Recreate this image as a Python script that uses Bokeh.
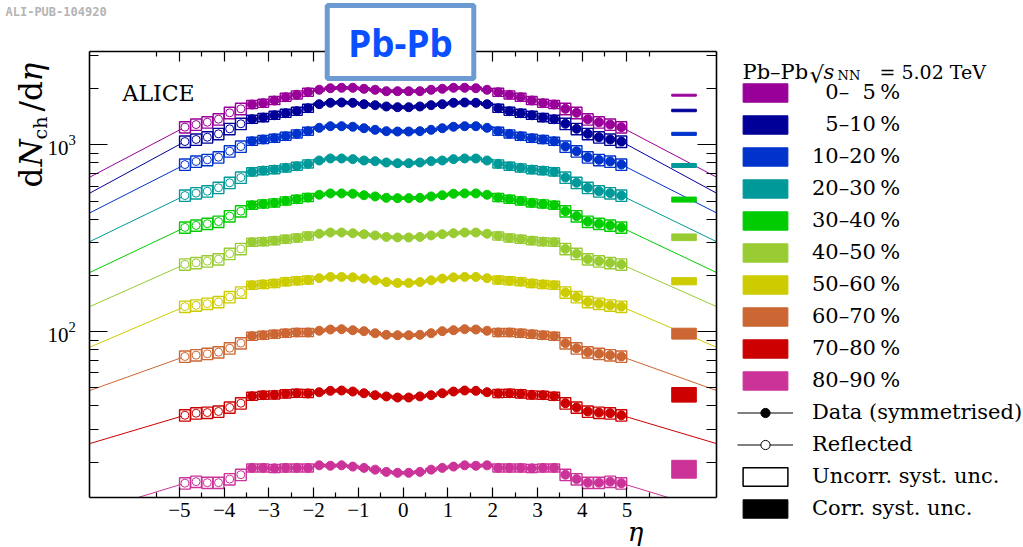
import math
from bokeh.plotting import figure
from bokeh.models import (Range1d, FixedTicker, LogAxis, LinearAxis, LogTickFormatter,
                          Label, Legend, LegendItem, ColumnDataSource)
from bokeh.embed import file_html
from bokeh.resources import INLINE

# ---------------- data ----------------
ETA = [0.125, 0.375, 0.625, 0.875, 1.125, 1.375, 1.625, 1.875, 2.125, 2.375,
       2.625, 2.875, 3.125, 3.375, 3.625, 3.875, 4.125, 4.375, 4.625, 4.875]

CENTRALITY = ["0–5%", "5–10%", "10–20%", "20–30%", "30–40%",
              "40–50%", "50–60%", "60–70%", "70–80%", "80–90%"]
LEGEND_LABELS = ["\u20070–\u20075\u2009%", "\u20075–10\u2009%", "10–20\u2009%", "20–30\u2009%",
                 "30–40\u2009%", "40–50\u2009%", "50–60\u2009%", "60–70\u2009%",
                 "70–80\u2009%", "80–90\u2009%"]
COLORS = ["#990099", "#000099", "#0033cc", "#009999", "#00cc00",
          "#99cc33", "#cccc00", "#cc6633", "#cc0000", "#cc3399"]

DN_0_5 = [1937, 1937, 1971, 1995, 2020, 2020, 2010, 1971, 1913, 1853,
          1799, 1727, 1671, 1644, 1559, 1484, 1371, 1321, 1284, 1243]
DN_5_10 = [1590, 1604, 1630, 1650, 1679, 1685, 1679, 1650, 1570, 1514,
           1476, 1440, 1400, 1371, 1296, 1218, 1145, 1098, 1068, 1041]
DN_10_20 = [1178, 1183, 1203, 1227, 1249, 1258, 1258, 1233, 1183, 1145,
            1112, 1085, 1068, 1045, 979, 924, 858, 831, 814, 784]
DN_20_30 = [797, 804, 817, 824, 838, 845, 845, 824, 791, 768,
            753, 737, 728, 717, 668, 626, 589, 564, 551, 535]
DN_30_40 = [518, 520, 529, 537, 547, 549, 549, 540, 522, 511,
            501, 489, 483, 475, 441, 415, 388, 378, 370, 361]
DN_40_50 = [319, 321, 327, 332, 336, 339, 339, 334, 325, 317,
            312, 307, 303, 301, 277, 261, 244, 238, 233, 229]
DN_50_60 = [182, 184, 188, 192, 195, 196, 196, 193, 189, 187,
            185, 181, 179, 177, 162, 153, 144, 141, 138, 136]
DN_60_70 = [95.5, 96.0, 97.9, 100.4, 101.6, 102.9, 102.5, 100.9, 98.8, 98.8,
            97.9, 96.7, 95.5, 94.4, 86.6, 81.4, 77.5, 76.0, 74.7, 73.5]
DN_70_80 = [44.3, 44.9, 45.6, 46.7, 47.7, 48.3, 48.1, 47.3, 46.6, 46.7,
            46.4, 45.8, 45.6, 45.0, 41.3, 39.2, 37.3, 36.8, 36.5, 35.6]
DN_80_90 = [17.5, 17.7, 18.2, 18.6, 18.9, 19.2, 19.1, 19.2, 18.6, 18.6,
            18.6, 18.5, 18.6, 18.6, 17.1, 16.2, 15.5, 15.5, 15.7, 15.4]
SERIES = [DN_0_5, DN_5_10, DN_10_20, DN_20_30, DN_30_40,
          DN_40_50, DN_50_60, DN_60_70, DN_70_80, DN_80_90]

# relative uncorrelated systematic uncertainty per |eta| bin
UNC_REL = [0.015, 0.015, 0.015, 0.015, 0.015, 0.015, 0.015, 0.015, 0.05, 0.05,
           0.05, 0.05, 0.05, 0.05, 0.07, 0.07, 0.07, 0.07, 0.07, 0.07]
REFLECT_LIMIT = -3.5

# correlated systematic uncertainty (centre value and relative size)
CORR_CENTRE = [1844, 1527, 1145, 775, 509, 320, 186, 97.6, 46.0, 18.4]
CORR_REL = [0.012, 0.0155, 0.019, 0.025, 0.031, 0.041, 0.044, 0.067, 0.09, 0.11]

# fit extrapolation: end point |eta| and value
FIT_END_ETA = [7.0, 7.0, 7.0, 7.0, 7.0, 7.0, 7.0, 7.0, 7.0, 5.92]
FIT_END_VAL = [671, 551, 432, 303, 207, 136, 82.4, 48.3, 25.1, 12.91]

X_TICKS = [-5, -4, -3, -2, -1, 0, 1, 2, 3, 4, 5]
X_MINOR = [-5.5, -4.5, -3.5, -2.5, -1.5, -0.5, 0.5, 1.5, 2.5, 3.5, 4.5, 5.5]
Y_TICKS = [100, 1000]
Y_MINOR = [20, 30, 40, 50, 60, 70, 80, 90, 200, 300, 400, 500, 600, 700, 800, 900, 2000, 3000]

# ---------------- layout constants ----------------
W, H = 1023, 547
# the plotting area covers the whole canvas; the drawn "frame" is made of fixed axes
X_FRAME = (-7.0, 7.0)
Y_FRAME = (12.91, 3160.0)
X_CANVAS = (-8.995, 13.859)
Y_CANVAS = (6.968, 5928.0)
BOX_HALF = 0.12
CORR_X0, CORR_X1 = 6.0, 6.55


def fx(cx):
    return cx


def fy(cy):
    return H - cy


p = figure(width=W, height=H, x_range=Range1d(*X_CANVAS), y_range=Range1d(*Y_CANVAS),
           y_axis_type="log", output_backend="svg", toolbar_location=None,
           min_border_left=0, min_border_right=0, min_border_top=0, min_border_bottom=0)
p.title.text = ""
p.title.visible = False
p.background_fill_color = "white"
p.border_fill_color = "white"
p.xgrid.visible = False
p.ygrid.visible = False
p.outline_line_color = None

xa = p.xaxis[0]
xa.ticker = FixedTicker(ticks=X_TICKS, minor_ticks=X_MINOR)
xa.fixed_location = Y_FRAME[0]
ya = p.yaxis[0]
ya.ticker = FixedTicker(ticks=Y_TICKS, minor_ticks=Y_MINOR)
ya.formatter = LogTickFormatter()
ya.fixed_location = X_FRAME[0]

top = LinearAxis(ticker=FixedTicker(ticks=X_TICKS, minor_ticks=X_MINOR),
                 major_label_overrides={t: "" for t in X_TICKS},
                 fixed_location=Y_FRAME[1])
right = LogAxis(ticker=FixedTicker(ticks=Y_TICKS, minor_ticks=Y_MINOR),
                major_label_overrides={t: "" for t in Y_TICKS},
                fixed_location=X_FRAME[1])
p.add_layout(top, "above")
p.add_layout(right, "right")

for ax in (xa, top):
    ax.bounds = X_FRAME
    ax.major_tick_in = 10
    ax.major_tick_out = 0
    ax.minor_tick_in = 5
    ax.minor_tick_out = 0
for ax, mj, mn in ((ya, 18, 9), (right, 19, 10)):
    ax.bounds = Y_FRAME
    ax.major_tick_in = mj
    ax.major_tick_out = 0
    ax.minor_tick_in = mn
    ax.minor_tick_out = 0
for ax in (xa, ya, top, right):
    ax.axis_line_width = 1.6
    ax.axis_line_color = "black"
    ax.major_tick_line_color = "black"
    ax.minor_tick_line_color = "black"
    ax.major_tick_line_width = 1.2
    ax.minor_tick_line_width = 1.2
    ax.major_label_text_font = "Liberation Serif"
    ax.major_label_text_color = "black"
    ax.major_label_text_font_size = "21px"
xa.major_label_standoff = 6
ya.major_label_standoff = 14

ETA_ALL = [-e for e in reversed(ETA)] + ETA
UNC_ALL = list(reversed(UNC_REL)) + UNC_REL

corr_renderers = []
for i, (vals, col) in enumerate(zip(SERIES, COLORS)):
    vals_all = list(reversed(vals)) + vals
    # fit extrapolation
    p.line(x=[-FIT_END_ETA[i], ETA_ALL[0]], y=[FIT_END_VAL[i], vals_all[0]],
           line_color=col, line_width=1)
    p.line(x=[ETA_ALL[-1], FIT_END_ETA[i]], y=[vals_all[-1], FIT_END_VAL[i]],
           line_color=col, line_width=1)
    # uncorrelated syst boxes
    src_box = ColumnDataSource(dict(
        left=[e - BOX_HALF for e in ETA_ALL], right=[e + BOX_HALF for e in ETA_ALL],
        bottom=[v * (1 - u) for v, u in zip(vals_all, UNC_ALL)],
        top=[v * (1 + u) for v, u in zip(vals_all, UNC_ALL)]))
    p.quad(source=src_box, left="left", right="right", bottom="bottom", top="top",
           fill_color=None, line_color=col, line_width=1.4)
    # reflected (open) and measured (filled) points
    refl_x = [e for e in ETA_ALL if e < REFLECT_LIMIT]
    refl_y = [v for e, v in zip(ETA_ALL, vals_all) if e < REFLECT_LIMIT]
    data_x = [e for e in ETA_ALL if e >= REFLECT_LIMIT]
    data_y = [v for e, v in zip(ETA_ALL, vals_all) if e >= REFLECT_LIMIT]
    p.scatter(x=refl_x, y=refl_y, marker="circle", size=8, fill_color="white",
              line_color=col, line_width=1)
    p.scatter(x=data_x, y=data_y, marker="circle", size=9, fill_color=col, line_color=col)
    # correlated syst bar
    r = p.quad(left=[CORR_X0], right=[CORR_X1], bottom=[CORR_CENTRE[i] * (1 - CORR_REL[i])],
               top=[CORR_CENTRE[i] * (1 + CORR_REL[i])], fill_color=col, line_color=col)
    corr_renderers.append(r)

# legend-only renderers (placed outside the visible range)
OFF = [-100.0]
leg_line1 = p.line(x=OFF, y=[1.0], line_color="black", line_width=1)
leg_dot = p.scatter(x=OFF, y=[1.0], marker="circle", size=8, fill_color="black", line_color="black")
leg_line2 = p.line(x=OFF, y=[1.0], line_color="black", line_width=1)
leg_open = p.scatter(x=OFF, y=[1.0], marker="circle", size=7, fill_color="white", line_color="black")
leg_unc = p.quad(left=OFF, right=OFF, top=[1.0], bottom=[1.0], fill_color="white",
                 line_color="black", line_width=1.5)
leg_corr = p.quad(left=OFF, right=OFF, top=[1.0], bottom=[1.0], fill_color="black",
                  line_color="black")

items = [LegendItem(label=lbl, renderers=[r]) for lbl, r in zip(LEGEND_LABELS, corr_renderers)]
items += [LegendItem(label="Data (symmetrised)", renderers=[leg_line1, leg_dot]),
          LegendItem(label="Reflected", renderers=[leg_line2, leg_open]),
          LegendItem(label="Uncorr. syst. unc.", renderers=[leg_unc]),
          LegendItem(label="Corr. syst. unc.", renderers=[leg_corr])]

legend = Legend(items=items, location=(fx(737), fy(520)), orientation="vertical",
                glyph_width=56, glyph_height=23, label_height=23, spacing=8,
                label_standoff=19, padding=0, margin=0,
                border_line_alpha=0, background_fill_alpha=0,
                label_text_font="DejaVu Serif", label_text_font_size="21px",
                label_text_color="black")
p.add_layout(legend)

SERIF = "DejaVu Serif"


def lab(text, cx, cy, size, font=SERIF, style="normal", align="left", baseline="alphabetic",
        color="black", angle=0.0):
    p.add_layout(Label(x=fx(cx), y=fy(cy), x_units="screen", y_units="screen", text=text,
                       text_font=font, text_font_size=f"{size}px", text_font_style=style,
                       text_align=align, text_baseline=baseline, text_color=color,
                       angle=angle))


# legend title: Pb–Pb √s_NN = 5.02 TeV
lab("Pb–Pb", 742, 71, 21)
lab("√", 809, 74, 23)
lab("s", 823, 71, 21, style="italic")
lab("NN", 837, 75, 13)
lab("= 5.02 TeV", 879, 71, 19)

# ALICE
lab("ALICE", 122, 93, 22)

# y axis title dN_ch/dη (rotated)
rot = math.pi / 2
lab("d", 30, 187, 31, angle=rot)
lab("N", 30, 166, 31, style="italic", angle=rot)
lab("ch", 39, 139, 19, angle=rot)
lab("/d", 30, 111, 31, angle=rot)
lab("η", 30, 81, 31, style="italic", angle=rot)

# x axis title
lab("η", 635, 531, 26, style="italic", align="center")

# header stamp
lab("ALI-PUB-104920", 5, 11, 12, font="DejaVu Sans Mono", style="bold", baseline="middle",
    color="#b4b4b4")

# Pb-Pb badge
p.add_layout(Label(x=fx(400), y=fy(41.5), x_units="screen", y_units="screen", text="Pb-Pb",
                   text_font="Noto Sans", text_font_size="37px", text_font_style="bold",
                   text_color="#0a50ff", text_align="center", text_baseline="middle",
                   background_fill_color="white", border_line_color="#6b9bd1",
                   border_line_width=5, padding=(21, 11)))

open("out.html", "w").write(file_html(p, INLINE))
